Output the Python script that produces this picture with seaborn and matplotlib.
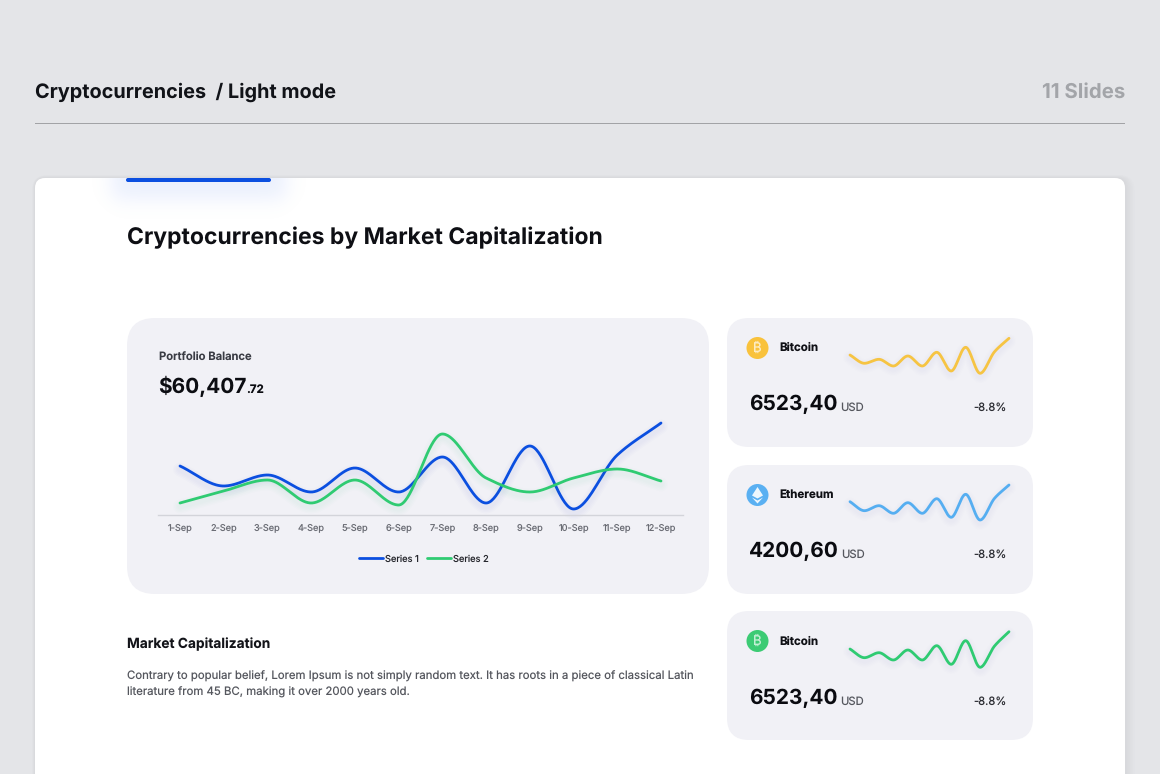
import numpy as np
import pandas as pd
import matplotlib
matplotlib.use("Agg")
import matplotlib.pyplot as plt
import matplotlib.patheffects as pe
from matplotlib.patches import FancyBboxPatch, Circle, Polygon, Rectangle
import seaborn as sns

# ---- data ----
days = ["1-Sep", "2-Sep", "3-Sep", "4-Sep", "5-Sep", "6-Sep", "7-Sep", "8-Sep", "9-Sep", "10-Sep", "11-Sep", "12-Sep"]
series_1 = [49, 29, 40, 23, 47, 23, 58, 12, 69, 6, 60, 92]
series_2 = [12, 24, 35, 12, 35, 10, 81, 37, 23, 37, 46, 34]
spark_bitcoin = [25, 16.7, 20.7, 14, 24, 14, 27.7, 9, 32.7, 6.7, 28.3, 41.7]
spark_ethereum = [23.3, 14.3, 19.3, 11.7, 22.3, 11.7, 26.3, 7.7, 30.7, 5, 26.7, 40]
spark_bitcoin2 = [21, 12.3, 17.3, 10, 20, 10, 24.3, 5.7, 29.3, 2.7, 24, 38.3]

BG = "#E4E5E8"
PANEL = "#F1F1F6"
BLUE = "#0B4FE0"
GREEN = "#2FCB72"
YELLOW = "#F6C443"
SKY = "#55AEF1"
W, H = 1160, 774

sns.set_theme(style="white")
plt.rcParams["font.family"] = ["Inter", "DejaVu Sans"]
plt.rcParams["text.hinting"] = "no_hinting"
SYMBOL_FONTS = ["Inter", "Roboto", "Noto Sans", "Open Sans", "Lato", "Liberation Sans", "DejaVu Sans"]


def smooth(y, n=40):
    """Monotone cubic curve through the read values, for drawing only."""
    y = np.asarray(y, float)
    d = np.diff(y)
    m = np.zeros_like(y)
    for i in range(1, len(y) - 1):
        if d[i - 1] * d[i] > 0:
            m[i] = 2 * d[i - 1] * d[i] / (d[i - 1] + d[i])
    m[0] = d[0]
    m[-1] = d[-1]
    xs, ys = [], []
    for i in range(len(d)):
        t = np.linspace(0, 1, n, endpoint=False)
        h00 = 2 * t**3 - 3 * t**2 + 1
        h10 = t**3 - 2 * t**2 + t
        h01 = -2 * t**3 + 3 * t**2
        h11 = t**3 - t**2
        xs.append(i + t)
        ys.append(h00 * y[i] + h10 * m[i] + h01 * y[i + 1] + h11 * m[i + 1])
    return np.r_[np.concatenate(xs), len(y) - 1], np.r_[np.concatenate(ys), y[-1]]


def px_axes(x0, y0, x1, y1):
    return fig.add_axes([x0 / W, 1 - y1 / H, (x1 - x0) / W, (y1 - y0) / H])


def shadow(color, dy=-2.5):
    return [pe.SimpleLineShadow(offset=(0, dy), shadow_color=color, alpha=0.016, linewidth=w)
            for w in (10, 8, 6, 4)] + [pe.Normal()]


def rbox(x0, y0, x1, y1, r, **kw):
    bg.add_patch(FancyBboxPatch((x0, y0), x1 - x0, y1 - y0,
                                boxstyle=f"round,pad=0,rounding_size={r}", linewidth=0, **kw))


fig = plt.figure(figsize=(W / 100, H / 100), dpi=100, facecolor=BG)
bg = fig.add_axes([0, 0, 1, 1])
bg.axis("off")

# header
bg.text(35, 92.5, "Cryptocurrencies  / Light mode", fontsize=14.3, fontweight="bold", color="#111318", va="center")
bg.text(1125, 92.5, "11 Slides", fontsize=14.7, fontweight="bold", color="#A3A5A9", va="center", ha="right")
bg.add_patch(Rectangle((35, 123), 1090, 1, color="#A2A3A6", linewidth=0))

# card with soft shadow
for g in range(1, 7):
    rbox(35 - g * 0.5, 178 - g * 0.5, 1125 + g * 1.6, 800, 10 + g, color="#C4C5CA", alpha=0.05, zorder=1)
rbox(35, 178, 1125, 800, 10, color="white", zorder=2)

# blue tab and soft glow beneath it
gx, gy = np.meshgrid(np.arange(85, 316), np.arange(178, 228))
glow = (1 / (1 + np.exp((112 - gx) / 6))) * (1 / (1 + np.exp((gx - 285) / 6))) * (1 / (1 + np.exp((gy - 198) / 6)))
rgba = np.zeros(gx.shape + (4,))
rgba[..., :3] = matplotlib.colors.to_rgb("#5C86F2")
rgba[..., 3] = glow * 0.13
bg.imshow(rgba, extent=(85, 316, 228, 178), aspect="auto", interpolation="bilinear", zorder=3)
bg.set_xlim(0, W)
bg.set_ylim(H, 0)
rbox(126, 178, 271, 182, 2, color=BLUE, zorder=4)

bg.text(127, 238, "Cryptocurrencies by Market Capitalization", fontsize=16.5, fontweight="bold",
        color="#0E0F14", va="center", zorder=4)

# panels
rbox(127, 318, 709, 594, 28, color=PANEL, zorder=3)
rbox(727, 318, 1033, 447, 22, color=PANEL, zorder=3)
rbox(727, 465, 1033, 594, 22, color=PANEL, zorder=3)
rbox(727, 611, 1033, 740, 22, color=PANEL, zorder=3)

bg.text(159, 357, "Portfolio Balance", fontsize=8.1, fontweight="semibold", color="#3A3C44", va="center", zorder=4)
bg.text(158.5, 386.5, "$60,407", fontsize=15, fontweight="bold", color="#0C0D12", va="center", zorder=4)
bg.text(246.5, 390, ".72", fontsize=8.3, fontweight="bold", color="#0C0D12", va="center", zorder=4)

bg.text(127, 644, "Market Capitalization", fontsize=9.9, fontweight="bold", color="#14151A", va="center", zorder=4)
bg.text(127, 676, "Contrary to popular belief, Lorem Ipsum is not simply random text. It has roots in a piece of classical Latin",
        fontsize=8.2, color="#55575E", va="center", zorder=4)
bg.text(127, 692, "literature from 45 BC, making it over 2000 years old.",
        fontsize=8.2, color="#55575E", va="center", zorder=4)

# main chart
ax = px_axes(158, 415, 683, 515)
ax.patch.set_alpha(0)
frames = []
for name, vals in (("Series 1", series_1), ("Series 2", series_2)):
    xs, ys = smooth(vals)
    frames.append(pd.DataFrame({"x": xs, "y": ys, "series": name}))
long_df = pd.concat(frames, ignore_index=True)
sns.lineplot(data=long_df, x="x", y="y", hue="series", palette={"Series 1": BLUE, "Series 2": GREEN},
             linewidth=2.0, ax=ax, legend=False, errorbar=None, solid_capstyle="round")
for ln, c in zip(ax.get_lines(), ("#3F6BE8", "#4FCB90")):
    ln.set_path_effects(shadow(c))
    ln.set_clip_on(False)
ax.set_xlim(-0.503, 11.503)
ax.set_ylim(0, 100)
ax.set_xticks(range(len(days)))
ax.set_xticklabels(days, fontsize=6.6, color="#6B6D75")
ax.set_yticks([])
ax.set_xlabel("")
ax.set_ylabel("")
ax.tick_params(axis="x", length=0, pad=5.5)
for s in ("top", "left", "right"):
    ax.spines[s].set_visible(False)
ax.spines["bottom"].set_color("#D3D4DA")
ax.spines["bottom"].set_linewidth(1)
handles = [plt.Line2D([], [], color=BLUE, lw=2), plt.Line2D([], [], color=GREEN, lw=2)]
ax.legend(handles, ["Series 1", "Series 2"], loc="center", bbox_to_anchor=((424 - 158) / 525, -0.44), ncol=2,
          frameon=False, fontsize=6.7, handlelength=2.6, handletextpad=0.25, columnspacing=0.8,
          labelcolor="#25262C")

# small cards
cards = [
    (318, "Bitcoin", "6523,40", spark_bitcoin, YELLOW, "#F9C23C", 348, 348, 405, 408, 320, 840),
    (465, "Ethereum", "4200,60", spark_ethereum, SKY, "#5AB0F2", 495, 495, 552, 555, 465, 841),
    (611, "Bitcoin", "6523,40", spark_bitcoin2, GREEN, "#3CCB74", 641, 642, 699, 702, 610, 840),
]
for top, name, price, spark, col, icon, cy, ny, py, sy, sp_top, usd_x in cards:
    bg.add_patch(Circle((757.5, cy), 11, color=icon, linewidth=0, zorder=5))
    if name == "Ethereum":
        bg.add_patch(Polygon([(757.5, cy - 8), (763, cy + 0.5), (757.5, cy + 3.5), (752, cy + 0.5)],
                             closed=True, color="white", alpha=0.9, linewidth=0, zorder=6))
        bg.add_patch(Polygon([(752, cy + 2.5), (757.5, cy + 5.5), (763, cy + 2.5), (757.5, cy + 8.5)],
                             closed=True, color="white", alpha=0.9, linewidth=0, zorder=6))
    else:
        bg.text(757.5, cy, "₿", fontsize=9.5, color="white", alpha=0.7, ha="center", va="center",
                family=SYMBOL_FONTS, zorder=6)
    bg.text(779, ny, name, fontsize=8.3, fontweight="bold", color="#0F1015", va="center", zorder=5)
    bg.text(749, py, price, fontsize=15, fontweight="bold", color="#0A0B10", va="center", zorder=5)
    bg.text(usd_x, sy, "USD", fontsize=8.1, color="#55575E", va="center", zorder=5)
    bg.text(1007, sy, "-8.8%", fontsize=8.1, color="#2C2D33", va="center", ha="right", zorder=5)

    sa = px_axes(850, sp_top, 1009, sp_top + 60)
    sa.patch.set_alpha(0)
    xs, ys = smooth(spark)
    sns.lineplot(x=xs, y=ys, color=col, linewidth=2.0, ax=sa, errorbar=None, solid_capstyle="round")
    sa.get_lines()[0].set_path_effects(shadow("#9FA8D8", dy=-2))
    sa.get_lines()[0].set_clip_on(False)
    sa.set_xlim(0, 11)
    sa.set_ylim(0, 60)
    sa.axis("off")

fig.savefig("out.png", dpi=100, facecolor=BG)
